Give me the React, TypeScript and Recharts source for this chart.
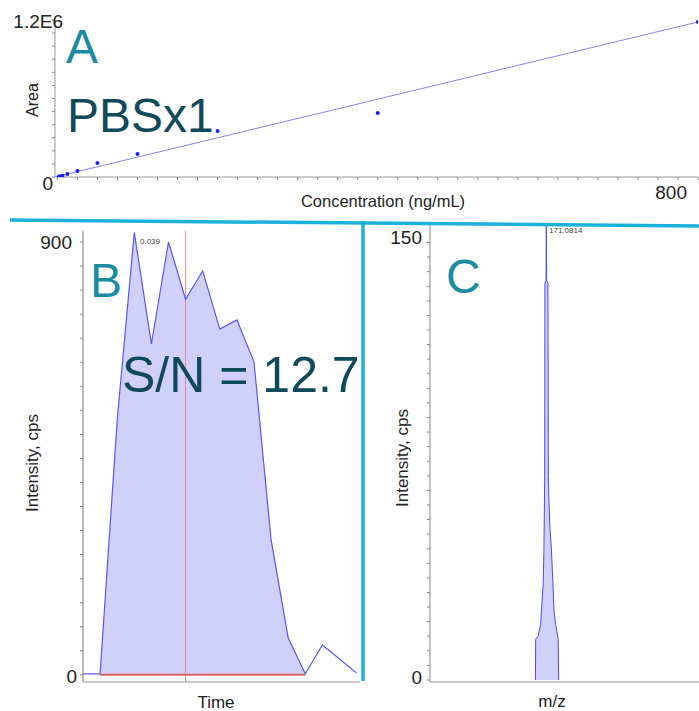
import React from 'react';
import {
  ScatterChart,
  Scatter,
  XAxis,
  YAxis,
  ComposedChart,
  Area,
  Line,
  ReferenceLine,
} from 'recharts';

// ---------- Panel A: calibration curve (PBSx1) ----------
const concentrations = [1.5625, 3.125, 6.25, 12.5, 25, 50, 100, 200, 400, 800];
const peakAreas = [2500, 5000, 9000, 23000, 46000, 107000, 176000, 352000, 489000, 1185000];
const fitConcentrations = [-3, 800];
const fitAreas = [0, 1185000];
const areaTickLabels = [0, 1200000];
const concTickLabels = [800];
const areaTicks = Array.from({ length: 13 }, (_, i) => i * 100000);
const concTicks = Array.from({ length: 33 }, (_, i) => i * 25);

// ---------- Panel B: extracted ion chromatogram ----------
const scanIndex = [0, 1, 2, 3, 4, 5, 6, 7, 8, 9, 10, 11, 12, 13, 14, 15, 16];
const xicIntensity = [2, 2, 530, 920, 688, 900, 781, 840, 719, 738, 651, 281, 77, 2, 62, 33, 4];
const integrationStart = 1;
const integrationEnd = 13;
const apexScan = 6;
const xicTickLabels = [0, 900];
const xicTicks = Array.from({ length: 19 }, (_, i) => i * 50);

// ---------- Panel C: mass spectrum ----------
const mzValues = [
  170.98, 170.982, 171.005, 171.028, 171.052, 171.059, 171.066, 171.068, 171.0786, 171.0814,
  171.0842, 171.096, 171.1, 171.106, 171.115, 171.128, 171.143, 171.152, 171.168, 171.191, 171.196,
];
const mzIntensity = [0, 14, 15, 19, 33, 45, 70, 136, 137, 156, 137, 136, 70, 61, 52, 45, 33, 24, 19, 14, 0];
const msTickLabels = [0, 150];
const msTicks = Array.from({ length: 31 }, (_, i) => i * 5);

const FONT = '"Liberation Sans", Arial, Helvetica, sans-serif';
const TEAL = '#1b8aa3';
const DARK = '#0f4a5b';
const CYAN = '#1ab2da';
const AXIS = '#9a9a9a';
const TXT = '#222222';

const calPoints = concentrations.map((c, i) => ({ x: c, y: peakAreas[i] }));
const fitPoints = fitConcentrations.map((c, i) => ({ x: c, y: fitAreas[i] }));

const xicData = scanIndex.map((t, i) => ({
  t,
  sig: xicIntensity[i],
  fill: i >= integrationStart && i <= integrationEnd ? xicIntensity[i] : null,
  base: i >= integrationStart && i <= integrationEnd ? 0 : null,
}));

const msData = mzValues.map((mz, i) => ({ mz, inten: mzIntensity[i] }));

const tickStyle = { fontFamily: FONT, fontSize: 19, fill: TXT };

const AYTick = (props: any) => {
  const { y, payload } = props;
  if (!areaTickLabels.includes(payload.value)) return <g />;
  if (payload.value === 0)
    return (
      <text x={53} y={y + 13} textAnchor="end" style={tickStyle}>
        0
      </text>
    );
  return (
    <text x={63} y={y + 8} textAnchor="end" style={tickStyle}>
      1.2E6
    </text>
  );
};

const AXTick = (props: any) => {
  const { x, payload } = props;
  if (!concTickLabels.includes(payload.value)) return <g />;
  return (
    <text x={x - 11} y={199} textAnchor="end" style={tickStyle}>
      {payload.value}
    </text>
  );
};

const BYTick = (props: any) => {
  const { y, payload } = props;
  if (!xicTickLabels.includes(payload.value)) return <g />;
  if (payload.value === 0)
    return (
      <text x={77} y={y + 8} textAnchor="end" style={tickStyle}>
        0
      </text>
    );
  return (
    <text x={72} y={y + 7} textAnchor="end" style={tickStyle}>
      {payload.value}
    </text>
  );
};

const CYTick = (props: any) => {
  const { y, payload } = props;
  if (!msTickLabels.includes(payload.value)) return <g />;
  return (
    <text x={57} y={y + (payload.value === 0 ? 4 : 2)} textAnchor="end" style={tickStyle}>
      {payload.value}
    </text>
  );
};

const Dot = (p: any) => <circle cx={p.cx} cy={p.cy} r={2} fill="#1a1aff" />;
const NoShape = () => <g />;

const tickLineStyle = { stroke: '#8a8a8a', strokeWidth: 1 };

export default function App() {
  return (
    <div
      style={{
        position: 'absolute',
        left: 0,
        top: 0,
        width: 699,
        height: 711,
        background: '#ffffff',
        fontFamily: FONT,
        overflow: 'hidden',
      }}
    >
      {/* Panel A */}
      <div style={{ position: 'absolute', left: 0, top: 0 }}>
        <ScatterChart width={699} height={215} margin={{ top: 20, right: 1, left: 0, bottom: 0 }}>
          <XAxis
            type="number"
            dataKey="x"
            domain={[-3, 800]}
            ticks={concTicks}
            interval={0}
            allowDataOverflow
            height={38}
            stroke={AXIS}
            tickSize={3}
            tickLine={tickLineStyle}
            tick={<AXTick />}
          />
          <YAxis
            type="number"
            dataKey="y"
            domain={[0, 1200000]}
            ticks={areaTicks}
            interval={0}
            allowDataOverflow
            width={55}
            stroke={AXIS}
            tickSize={3}
            tickLine={tickLineStyle}
            tick={<AYTick />}
          />
          <Scatter
            data={fitPoints}
            line={{ stroke: '#8585f4', strokeWidth: 1 }}
            shape={NoShape}
            isAnimationActive={false}
          />
          <Scatter data={calPoints} shape={Dot} isAnimationActive={false} />
        </ScatterChart>
      </div>

      {/* Panel B */}
      <div style={{ position: 'absolute', left: 0, top: 222 }}>
        <ComposedChart width={365} height={489} data={xicData} margin={{ top: 9, right: 5, left: 0, bottom: 0 }}>
          <XAxis
            type="number"
            dataKey="t"
            domain={[0, 16.2]}
            height={29}
            stroke={AXIS}
            tick={false}
            tickLine={false}
          />
          <YAxis
            type="number"
            domain={[-15, 923]}
            ticks={xicTicks}
            interval={0}
            allowDataOverflow
            width={83}
            stroke={'#777777'}
            tickSize={3}
            tickLine={tickLineStyle}
            tick={<BYTick />}
          />
          <ReferenceLine x={apexScan} stroke="#f08888" strokeWidth={1} />
          <Area
            type="linear"
            dataKey="fill"
            baseValue={0}
            fill="#c8c8fa"
            fillOpacity={0.85}
            stroke="none"
            connectNulls={false}
            isAnimationActive={false}
          />
          <Line
            type="linear"
            dataKey="base"
            stroke="#e06060"
            strokeWidth={2}
            dot={false}
            connectNulls={false}
            isAnimationActive={false}
          />
          <Line
            type="linear"
            dataKey="sig"
            stroke="#5858f0"
            strokeWidth={1.2}
            dot={false}
            isAnimationActive={false}
          />
        </ComposedChart>
      </div>

      {/* Panel C */}
      <div style={{ position: 'absolute', left: 365, top: 222 }}>
        <ComposedChart width={334} height={489} data={msData} margin={{ top: 3, right: 0, left: 0, bottom: 0 }}>
          <XAxis
            type="number"
            dataKey="mz"
            domain={[170, 172.5]}
            height={29}
            stroke={AXIS}
            tick={false}
            tickLine={false}
          />
          <YAxis
            type="number"
            domain={[-0.7, 156]}
            ticks={msTicks}
            interval={0}
            allowDataOverflow
            width={65}
            stroke={'#888888'}
            tickSize={3}
            tickLine={tickLineStyle}
            tick={<CYTick />}
          />
          <Area
            type="linear"
            dataKey="inten"
            baseValue={0}
            fill="#d0d0fa"
            fillOpacity={1}
            stroke="#4a4af0"
            strokeWidth={1}
            isAnimationActive={false}
          />
        </ComposedChart>
      </div>

      {/* Overlay: annotations and panel dividers */}
      <svg
        width={699}
        height={711}
        style={{ position: 'absolute', left: 0, top: 0, pointerEvents: 'none' }}
      >
        <line x1={10} y1={220} x2={699} y2={226} stroke={CYAN} strokeWidth={3.5} />
        <line x1={363} y1={221} x2={363} y2={681} stroke={CYAN} strokeWidth={3.5} />

        <text x={66} y={63} fontFamily={FONT} fontSize={48} fill={TEAL}>A</text>
        <text x={67} y={132} fontFamily={FONT} fontSize={48} fill={DARK}>PBSx1</text>
        <text
          x={38}
          y={100}
          transform="rotate(-90 38 100)"
          textAnchor="middle"
          fontFamily={FONT}
          fontSize={16}
          fill={TXT}
        >
          Area
        </text>
        <text x={383} y={207} textAnchor="middle" fontFamily={FONT} fontSize={16.5} fill={TXT}>
          Concentration (ng/mL)
        </text>

        <text x={90} y={297} fontFamily={FONT} fontSize={48} fill={TEAL}>B</text>
        <text x={122} y={392} fontFamily={FONT} fontSize={50} fill={DARK}>S/N = 12.7</text>
        <text x={140} y={244} fontFamily={FONT} fontSize={8} fill="#444">0.039</text>
        <text
          x={38}
          y={463}
          transform="rotate(-90 38 463)"
          textAnchor="middle"
          fontFamily={FONT}
          fontSize={17}
          fill={TXT}
        >
          Intensity, cps
        </text>
        <text x={216} y={708} textAnchor="middle" fontFamily={FONT} fontSize={17} fill={TXT}>
          Time
        </text>

        <text x={446} y={293} fontFamily={FONT} fontSize={48} fill={TEAL}>C</text>
        <text x={549} y={233} fontFamily={FONT} fontSize={8} fill="#444">171.0814</text>
        <text
          x={408}
          y={458}
          transform="rotate(-90 408 458)"
          textAnchor="middle"
          fontFamily={FONT}
          fontSize={17}
          fill={TXT}
        >
          Intensity, cps
        </text>
        <text x={552} y={707} textAnchor="middle" fontFamily={FONT} fontSize={17} fill={TXT}>
          m/z
        </text>
      </svg>
    </div>
  );
}
